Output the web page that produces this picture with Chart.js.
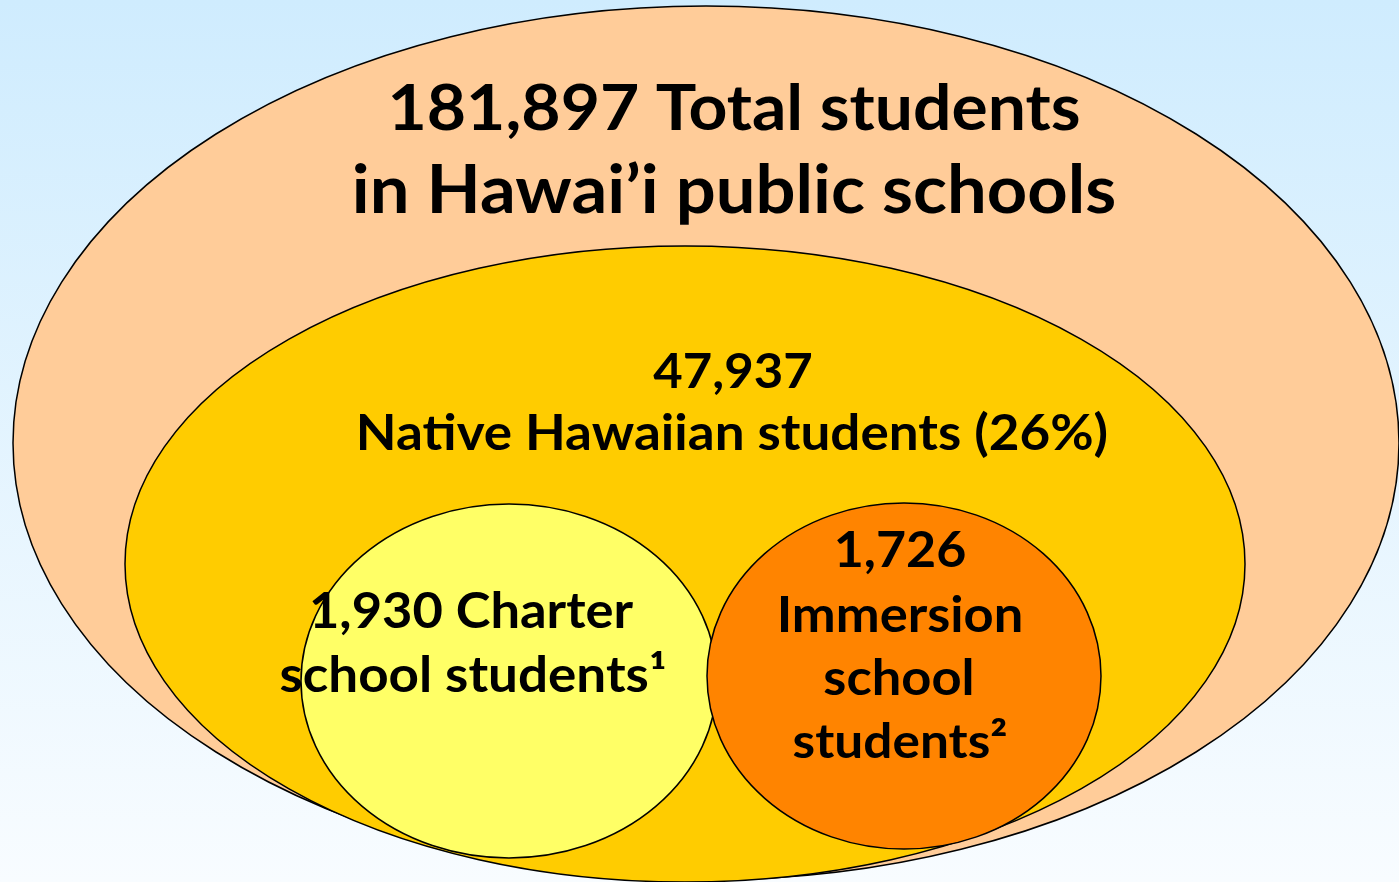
<!DOCTYPE html>
<html>
<head>
<meta charset="utf-8">
<script src="https://cdn.jsdelivr.net/npm/chart.js@4.4.1/dist/chart.umd.min.js"></script>
<style>
    html, body { margin: 0; padding: 0; overflow: hidden; }
    #diagram { display: block; }
</style>
</head>
<body>
<canvas id="diagram" width="1399" height="882"></canvas>
<script>
// Student counts (one per ring of the diagram)
var groups = ['Total', 'Native Hawaiian', 'Charter', 'Immersion'];
var students = [181897, 47937, 1930, 1726];
var nativeSharePct = [26];
var footnotes = ['¹', '²'];

// Where each ring sits on the 1399 x 882 canvas grid
var ringLayout = [
    { cx: 706, cy: 443, rx: 693, ry: 437, fill: '#ffcc99' },
    { cx: 685, cy: 564, rx: 560, ry: 318, fill: '#ffcc00' },
    { cx: 904, cy: 676, rx: 197, ry: 173, fill: '#ff8400' },
    { cx: 509, cy: 681, rx: 208, ry: 177, fill: '#ffff66' }
];
var ringOrder = [0, 1, 3, 2]; // charter circle is drawn over the immersion one

function fmt(n) {
    return n.toLocaleString('en-US');
}

// Text lines: [text, x, baseline y, font size]
var textLines = [
    [fmt(students[0]) + ' Total students', 734, 130, 64],
    ['in Hawai’i public schools', 734, 213, 66.5],
    [fmt(students[1]), 733, 388, 48],
    ['Native Hawaiian students (' + nativeSharePct[0] + '%)', 732, 450, 50],
    [fmt(students[2]) + ' Charter', 471, 628, 49.5],
    ['school students' + footnotes[0], 473, 692, 50],
    [fmt(students[3]), 900, 567, 49],
    ['Immersion', 900, 632, 49.5],
    ['school', 899, 695, 49.5],
    ['students' + footnotes[1], 900, 758, 48.5]
];
var textStretch = 1.06; // the original face is a bit wider than Lato

var ellipsePlugin = {
    id: 'ellipses',
    beforeDraw: function (chart) {
        var ctx = chart.ctx;
        var g = ctx.createLinearGradient(0, 0, 0, chart.height);
        g.addColorStop(0, '#cfecfe');
        g.addColorStop(1, '#f8fcff');
        ctx.save();
        ctx.fillStyle = g;
        ctx.fillRect(0, 0, chart.width, chart.height);
        ctx.restore();
    },
    afterDatasetsDraw: function (chart) {
        var ctx = chart.ctx;
        var xs = chart.scales.x, ys = chart.scales.y;
        ctx.save();
        chart.data.datasets.forEach(function (ds, i) {
            var pt = chart.getDatasetMeta(i).data[0];
            var rx = Math.abs(xs.getPixelForValue(ds.data[0].x + ds.radiusX) - pt.x);
            var ry = Math.abs(ys.getPixelForValue(ds.data[0].y + ds.radiusY) - pt.y);
            ctx.beginPath();
            ctx.ellipse(pt.x, pt.y, rx, ry, 0, 0, Math.PI * 2);
            ctx.fillStyle = ds.backgroundColor;
            ctx.fill();
            ctx.lineWidth = 1.5;
            ctx.strokeStyle = '#000';
            ctx.stroke();
        });

        ctx.fillStyle = '#000';
        ctx.textAlign = 'center';
        ctx.textBaseline = 'alphabetic';
        textLines.forEach(function (t) {
            ctx.save();
            ctx.translate(xs.getPixelForValue(t[1]), ys.getPixelForValue(t[2]));
            ctx.scale(textStretch, 1);
            ctx.font = 'bold ' + t[3] + 'px Lato, "Open Sans", sans-serif';
            ctx.fillText(t[0], 0, 0);
            ctx.restore();
        });
        ctx.restore();
    }
};

var datasets = ringOrder.map(function (k) {
    return {
        label: groups[k],
        data: [{ x: ringLayout[k].cx, y: ringLayout[k].cy }],
        radiusX: ringLayout[k].rx,
        radiusY: ringLayout[k].ry,
        backgroundColor: ringLayout[k].fill,
        pointRadius: 0,
        pointHoverRadius: 0
    };
});

new Chart(document.getElementById('diagram').getContext('2d'), {
    type: 'scatter',
    data: { datasets: datasets },
    options: {
        responsive: false,
        animation: false,
        layout: { padding: 0 },
        plugins: {
            legend: { display: false },
            tooltip: { enabled: false }
        },
        scales: {
            x: { type: 'linear', min: 0, max: 1399, display: false },
            y: { type: 'linear', min: 0, max: 882, reverse: true, display: false }
        }
    },
    plugins: [ellipsePlugin]
});
</script>
</body>
</html>
